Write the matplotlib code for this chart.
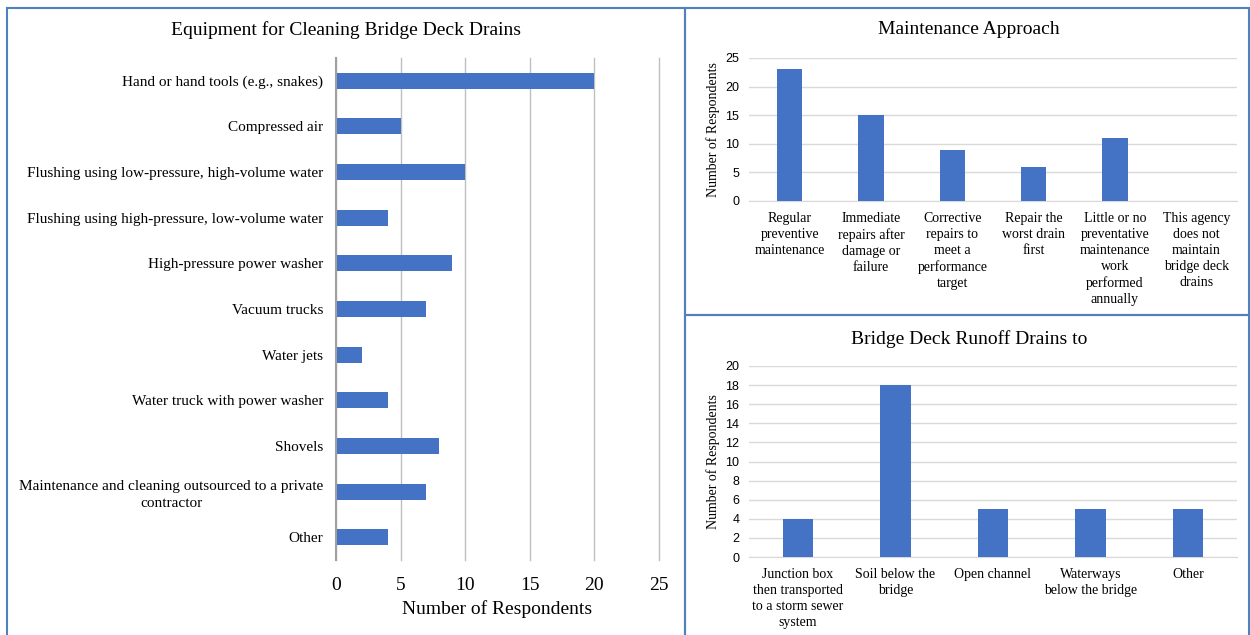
import matplotlib
matplotlib.use("Agg")
import matplotlib.pyplot as plt
from matplotlib.patches import Rectangle

# ---- data ----
equip_labels = [
    "Hand or hand tools (e.g., snakes)",
    "Compressed air",
    "Flushing using low-pressure, high-volume water",
    "Flushing using high-pressure, low-volume water",
    "High-pressure power washer",
    "Vacuum trucks",
    "Water jets",
    "Water truck with power washer",
    "Shovels",
    "Maintenance and cleaning outsourced to a private\ncontractor",
    "Other",
]
equip_values = [20, 5, 10, 4, 9, 7, 2, 4, 8, 7, 4]

maint_labels = [
    "Regular\npreventive\nmaintenance",
    "Immediate\nrepairs after\ndamage or\nfailure",
    "Corrective\nrepairs to\nmeet a\nperformance\ntarget",
    "Repair the\nworst drain\nfirst",
    "Little or no\npreventative\nmaintenance\nwork\nperformed\nannually",
    "This agency\ndoes not\nmaintain\nbridge deck\ndrains",
]
maint_values = [23, 15, 9, 6, 11, 0]

runoff_labels = [
    "Junction box\nthen transported\nto a storm sewer\nsystem",
    "Soil below the\nbridge",
    "Open channel",
    "Waterways\nbelow the bridge",
    "Other",
]
runoff_values = [4, 18, 5, 5, 5]

BAR = "#4472C4"
SERIF = "Liberation Serif"
SANS = "Liberation Sans"
BORDER = "#4F81BD"

W, H = 1250, 635
fig = plt.figure(figsize=(12.5, 6.35), dpi=100)

def fx(px):
    return px / W

def fy(py):
    return 1 - py / H

# panel borders
for (x0, y0, x1, y1) in [(7, 8, 685, 640), (685, 8, 1249, 315), (685, 315, 1249, 640)]:
    fig.patches.append(Rectangle((fx(x0), fy(y1)), fx(x1) - fx(x0), fy(y0) - fy(y1),
                                 transform=fig.transFigure, fill=False,
                                 edgecolor=BORDER, linewidth=1.5))

# ---- left: horizontal bars ----
ax1 = fig.add_axes([fx(336), fy(560), fx(659) - fx(336), fy(58) - fy(560)])
ypos = list(range(len(equip_labels)))
ax1.barh(ypos, equip_values, height=0.35, color=BAR, zorder=3)
ax1.set_ylim(len(equip_labels) - 0.5, -0.5)
ax1.set_xlim(0, 25)
ax1.set_xticks([0, 5, 10, 15, 20, 25])
ax1.set_yticks(ypos)
ax1.set_yticklabels(equip_labels, fontfamily=SERIF, fontsize=11, multialignment="center",
                    linespacing=1.35)
ax1.tick_params(axis="y", length=0, pad=9)
ax1.tick_params(axis="x", length=0, pad=12, labelsize=14)
for lab in ax1.get_xticklabels():
    lab.set_fontfamily(SERIF)
ax1.grid(axis="x", color="#BFBFBF", linewidth=1, zorder=0)
for gl in ax1.get_xgridlines():
    gl.set_clip_on(False)
for s in ["top", "right", "bottom"]:
    ax1.spines[s].set_visible(False)
ax1.spines["left"].set_color("#A0A0A0")
ax1.spines["left"].set_linewidth(1.5)
ax1.spines["left"].set_zorder(4)
ax1.set_xlabel("Number of Respondents", fontfamily=SERIF, fontsize=14, labelpad=5)
fig.text(fx(346), fy(30), "Equipment for Cleaning Bridge Deck Drains", ha="center", va="center",
         fontfamily=SERIF, fontsize=14)

def col_panel(rect, labels, values, ylim, yticks, width):
    ax = fig.add_axes(rect)
    xs = list(range(len(labels)))
    ax.bar(xs, values, width=width, color=BAR, zorder=3)
    ax.set_xlim(-0.5, len(labels) - 0.5)
    ax.set_ylim(*ylim)
    ax.set_yticks(yticks)
    ax.set_xticks(xs)
    ax.set_xticklabels(labels, fontfamily=SERIF, fontsize=10, linespacing=1.3, va="top")
    ax.tick_params(axis="x", length=0, pad=8)
    ax.tick_params(axis="y", length=0, pad=7, labelsize=9)
    for lab in ax.get_yticklabels():
        lab.set_fontfamily(SANS)
    ax.grid(axis="y", color="#D9D9D9", linewidth=1, zorder=0)
    for s in ["top", "right", "left"]:
        ax.spines[s].set_visible(False)
    ax.spines["bottom"].set_color("#D9D9D9")
    ax.set_ylabel("Number of Respondents", fontfamily=SERIF, fontsize=10, labelpad=4)
    return ax

ax2 = col_panel([fx(749), fy(201), fx(1237) - fx(749), fy(58) - fy(201)],
                maint_labels, maint_values, (0, 25), [0, 5, 10, 15, 20, 25], 0.31)
fig.text(fx(969), fy(30), "Maintenance Approach", ha="center", va="center",
         fontfamily=SERIF, fontsize=14)

ax3 = col_panel([fx(749), fy(557), fx(1237) - fx(749), fy(366) - fy(557)],
                runoff_labels, runoff_values, (0, 20), list(range(0, 21, 2)), 0.31)
fig.text(fx(969), fy(339), "Bridge Deck Runoff Drains to", ha="center", va="center",
         fontfamily=SERIF, fontsize=14)

fig.savefig("out.png", dpi=100)
